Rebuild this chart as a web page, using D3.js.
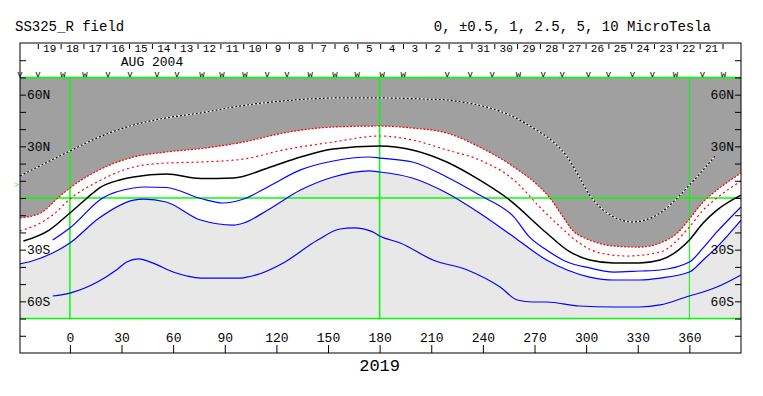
<!DOCTYPE html>
<html>
<head>
<meta charset="utf-8">
<script src="https://cdn.jsdelivr.net/npm/d3@7"></script>
<style>
  body { margin: 0; background: #fff; }
  svg { display: block; font-family: "Liberation Mono", "DejaVu Sans Mono", monospace; }
</style>
</head>
<body>
<svg id="chart"></svg>
<script>
// day labels along the top strip (time runs right to left)
const dayLabels = [19, 18, 17, 16, 15, 14, 13, 12, 11, 10, 9, 8, 7, 6, 5, 4, 3, 2, 1,
                   31, 30, 29, 28, 27, 26, 25, 24, 23, 22, 21];

// orbit pass markers (longitude, glyph)
const passLon  = [-29, -18.6, -4.1, 8.7, 22.1, 34.9, 50.6, 62.2, 76.8, 88.4, 101.8, 114.6, 126.2,
                  139.6, 154.1, 166.9, 181.5, 193.7, 219.3, 232.6, 245.4, 260.6, 275.1, 286.1,
                  301.3, 312.9, 326.9, 338.5, 351.9, 367.6, 379.8];
const passMark = ["v", "v", "w", "w", "v", "v", "v", "v", "w", "w", "w", "v", "v",
                  "w", "w", "w", "w", "w", "v", "v", "v", "w", "v", "v",
                  "v", "v", "v", "v", "w", "v", "w"];

const lonTicks = [0, 30, 60, 90, 120, 150, 180, 210, 240, 270, 300, 330, 360];
const latLabelValues = [60, 30, -30, -60];
const latLabelText = ["60N", "30N", "30S", "60S"];

// contour lines, [longitude, latitude]
const zeroLine = [[-29, 12.8], [0, 27.3], [17, 35.4], [37, 42.4], [56, 46.5], [76, 49.4], [95, 52.8],
  [130, 56.9], [157, 58.1], [180, 58.1], [205, 57.5], [219, 56.9], [231, 55.2], [244, 52.3],
  [258, 47.0], [271, 39.5], [281, 32.5], [289, 23.8], [296, 12.2], [302, 1.7], [308, -5.2],
  [316, -11.0], [327, -13.9], [343, -8.7], [353, 0], [360, 7.5], [368, 16.3], [375, 24.4]];

const halfUpper = [[-29, -11.6], [-17, -8.7], [-7, 0], [0, 5.8], [17, 16.3], [37, 23.8], [56, 26.7],
  [76, 28.7], [101, 32.5], [124, 37.7], [153, 41.2], [180, 41.8], [199, 40.6], [219, 37.7],
  [238, 29.6], [258, 18.0], [273, 6.4], [279, 0], [285, -8.7], [292, -18.6], [302, -24.4],
  [316, -27.9], [331, -28.5], [343, -26.1], [353, -20.3], [360, -12.2], [368, -2.3], [376, 4.6],
  [390, 14.5]];

const halfLower = [[-29, -19.2], [-16, -13.9], [-10, -9.9], [0, -0.6], [17, 9.9], [37, 18.0],
  [56, 20.3], [76, 20.9], [101, 22.6], [124, 27.9], [153, 32.5], [180, 36.0], [199, 33.7],
  [219, 27.9], [238, 22.1], [258, 10.5], [273, -5.2], [285, -16.8], [296, -26.1], [308, -31.9],
  [324, -33.7], [343, -31.4], [360, -16.8], [368, -7.0], [376, 0], [390, 9.9]];

const oneLine = [[-27, -25], [-12, -18.6], [0, -8.7], [10, 0], [17, 5.8], [29, 10.5], [37, 12.2],
  [56, 13.9], [76, 11.3], [95, 11.6], [115, 17.4], [134, 23.8], [153, 28.5], [180, 30.2],
  [199, 27.9], [219, 20.9], [238, 10.5], [254, 0], [277, -20.3], [289, -30.2], [302, -36.0],
  [316, -37.7], [331, -37.7], [343, -36.0], [360, -24.4], [368, -14.5], [376, -7.0], [390, 1.7]];

const twoHalfLine = [[-10, -24.4], [0, -17.4], [19, 0], [37, 5.8], [43, 6.4], [56, 6.1], [76, -0.3],
  [89, -2.9], [101, -0.6], [115, 6.4], [134, 16.3], [153, 21.5], [174, 23.8], [180, 23.2],
  [199, 20.9], [219, 12.2], [238, 1.7], [258, -11.0], [267, -22.6], [277, -30.2], [289, -37.2],
  [302, -40.6], [316, -43.0], [331, -42.4], [343, -41.8], [360, -37.2], [368, -29.0],
  [376, -19.7], [390, -5.2]];

const fiveLine = [[-29, -38.3], [-22, -36.6], [-10, -31.9], [0, -26.1], [17, -11.6], [37, -1.2],
  [43, -0.6], [56, -2.3], [76, -12.8], [95, -15.7], [101, -14.5], [115, -7.0], [134, 4.6],
  [153, 12.2], [174, 15.7], [180, 15.1], [199, 11.6], [219, 2.9], [238, -8.7], [258, -22.6],
  [277, -36.0], [289, -41.8], [302, -45.9], [316, -47.6], [331, -47.6], [343, -46.5],
  [360, -43.0], [368, -36.0], [376, -28.5], [390, -12.8]];

const tenLine = [[-10, -56.9], [0, -55.2], [16, -48.8], [27, -41.8], [33, -37.2], [40, -35.4],
  [48, -37.7], [60, -43.0], [68, -45.3], [76, -46.5], [99, -46.5], [110, -44.1], [124, -37.7],
  [144, -24.4], [157, -18.0], [165, -17.4], [176, -19.7], [180, -22.1], [192, -26.1],
  [211, -36.0], [231, -41.8], [250, -51.7], [260, -59.2], [269, -60.4], [277, -60.4],
  [296, -62.7], [316, -63.3], [331, -63.3], [343, -62.1], [360, -56.9], [368, -54.6],
  [376, -51.7], [390, -44.7]];

function drawChart() {
    const width = 763;
    const height = 396;
    const green = "#00ff00";

    const svg = d3.select("#chart")
        .attr("width", width)
        .attr("height", height);

    const x = d3.scaleLinear().domain([-29, 390]).range([20, 741]);
    const y = d3.scaleLinear().domain([-90, 90]).range([353, 43]);
    const dayX = d3.scaleTime()
        .domain([new Date(2004, 7, 20), new Date(2004, 6, 21)])
        .range([38.3, 723]);

    const line = d3.line().x(d => x(d[0])).y(d => y(d[1])).curve(d3.curveMonotoneX);
    const areaBelow = d3.area().x(d => x(d[0])).y0(y(-70)).y1(d => y(d[1])).curve(d3.curveMonotoneX);

    // titles
    svg.append("text").attr("x", 15).attr("y", 31).style("font-size", "14px").text("SS325_R field");
    svg.append("text").attr("x", 711).attr("y", 31).attr("text-anchor", "end")
        .style("font-size", "14px").text("0, ±0.5, 1, 2.5, 5, 10 MicroTesla");

    // background bands
    svg.append("rect")
        .attr("x", x(-29)).attr("y", y(70))
        .attr("width", x(390) - x(-29)).attr("height", y(-70) - y(70))
        .attr("fill", "#a0a0a0");
    svg.append("path").datum(halfUpper).attr("d", areaBelow).attr("fill", "#ffffff");
    svg.append("path").datum(fiveLine).attr("d", areaBelow).attr("fill", "#e8e8e8");

    // green reference lines
    [70, 0, -70].forEach(lat => {
        svg.append("line")
            .attr("x1", x(-29)).attr("x2", x(390))
            .attr("y1", y(lat)).attr("y2", y(lat))
            .attr("stroke", green).attr("stroke-width", 1.5);
    });
    [0, 180, 360].forEach(lon => {
        svg.append("line")
            .attr("x1", x(lon)).attr("x2", x(lon))
            .attr("y1", y(70)).attr("y2", y(-70))
            .attr("stroke", green).attr("stroke-width", lon === 360 ? 1 : 1.5);
    });

    // contours
    svg.append("path").datum(zeroLine).attr("d", line)
        .attr("fill", "none").attr("stroke", "#fff").attr("stroke-width", 1.2);
    svg.append("path").datum(zeroLine).attr("d", line)
        .attr("fill", "none").attr("stroke", "#000").attr("stroke-width", 1.2)
        .attr("stroke-dasharray", "2 2");

    svg.append("path").datum(halfUpper).attr("d", line)
        .attr("fill", "none").attr("stroke", "#ff0000").attr("stroke-width", 1.2)
        .attr("stroke-dasharray", "2 1.5");
    svg.append("path").datum(halfLower).attr("d", line)
        .attr("fill", "none").attr("stroke", "#ff0000").attr("stroke-width", 1.2)
        .attr("stroke-dasharray", "2 3");
    svg.append("path").datum(oneLine).attr("d", line)
        .attr("fill", "none").attr("stroke", "#000").attr("stroke-width", 1.5);

    [twoHalfLine, fiveLine, tenLine].forEach(d => {
        svg.append("path").datum(d).attr("d", line)
            .attr("fill", "none").attr("stroke", "#0000ff").attr("stroke-width", 1.2);
    });

    // latitude axes on both sides
    const latTicks = d3.range(-80, 81, 10);
    const latFmt = d => {
        const i = latLabelValues.indexOf(d);
        return i < 0 ? "" : latLabelText[i];
    };
    const leftAxis = svg.append("g")
        .attr("transform", `translate(${x(-29)},0)`)
        .call(d3.axisRight(y).tickValues(latTicks).tickSize(6).tickPadding(1).tickFormat(latFmt));
    const rightAxis = svg.append("g")
        .attr("transform", `translate(${x(390)},0)`)
        .call(d3.axisLeft(y).tickValues(latTicks).tickSize(6).tickPadding(1).tickFormat(latFmt));
    [leftAxis, rightAxis].forEach(g => {
        g.select(".domain").remove();
        g.selectAll("text").style("font-size", "13px").style("font-family", "Liberation Mono, monospace");
    });

    // longitude axis at the bottom
    const bottomAxis = svg.append("g")
        .attr("transform", `translate(0,${y(-90)})`)
        .call(d3.axisTop(x).tickValues(lonTicks).tickSize(8).tickPadding(3));
    bottomAxis.select(".domain").remove();
    bottomAxis.selectAll("text").style("font-size", "13px").style("font-family", "Liberation Mono, monospace");

    svg.append("text")
        .attr("x", x(180)).attr("y", 371)
        .attr("text-anchor", "middle")
        .style("font-size", "17px")
        .text("2019");

    // top strip: day ticks, day numbers, month label
    const dayBounds = d3.timeDay.range(new Date(2004, 6, 21), new Date(2004, 7, 21));
    svg.append("g").selectAll("line")
        .data(dayBounds)
        .join("line")
        .attr("x1", d => dayX(d)).attr("x2", d => dayX(d))
        .attr("y1", 44).attr("y2", 49)
        .attr("stroke", "#000");

    svg.append("g").selectAll("text")
        .data(dayLabels)
        .join("text")
        .attr("x", (d, i) => dayX(d3.timeHour.offset(d3.timeDay.offset(new Date(2004, 7, 19), -i), 12)))
        .attr("y", 52)
        .attr("text-anchor", "middle")
        .style("font-size", "11px")
        .text(d => d);

    svg.append("text")
        .attr("x", 152).attr("y", 66)
        .attr("text-anchor", "middle")
        .style("font-size", "13px")
        .text("AUG 2004");

    svg.append("g").selectAll("text")
        .data(passLon)
        .join("text")
        .attr("x", d => x(d)).attr("y", 76.5)
        .attr("text-anchor", "middle")
        .style("font-size", "9px")
        .text((d, i) => passMark[i]);

    // small green marker on the left edge
    svg.append("text")
        .attr("x", 14).attr("y", 187)
        .style("font-size", "8px")
        .attr("fill", green)
        .text(">");

    // frame
    svg.append("rect")
        .attr("x", x(-29)).attr("y", y(90))
        .attr("width", x(390) - x(-29)).attr("height", y(-90) - y(90))
        .attr("fill", "none").attr("stroke", "#000");
}

drawChart();
</script>
</body>
</html>
